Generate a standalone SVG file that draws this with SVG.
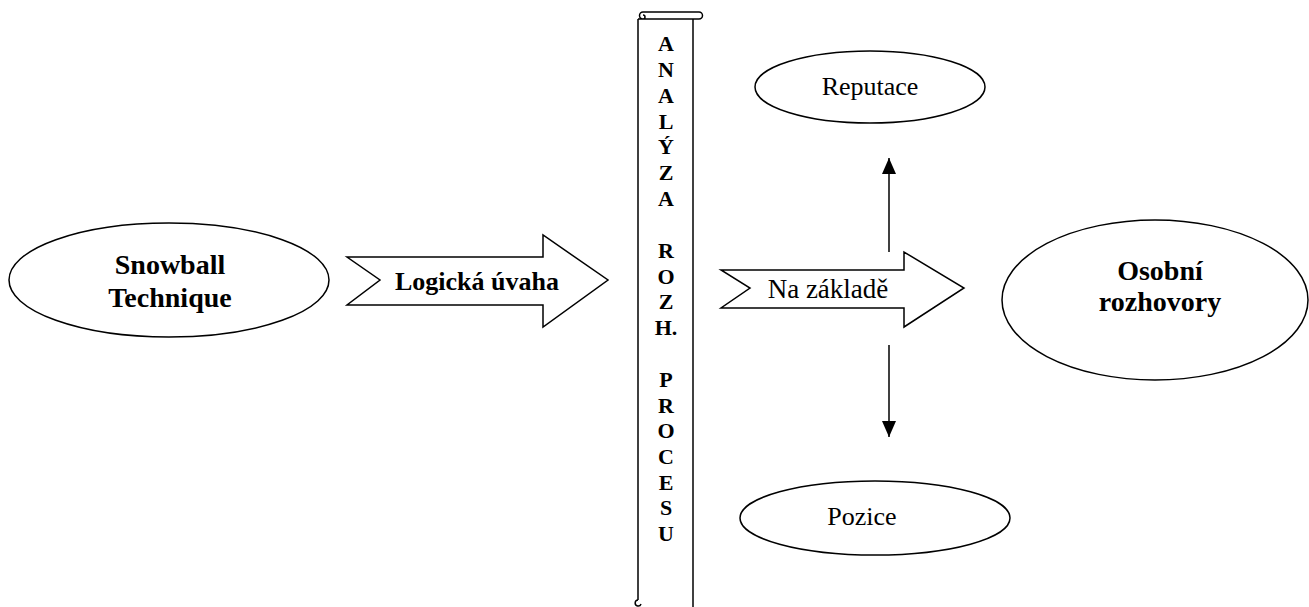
<svg xmlns="http://www.w3.org/2000/svg" width="1309" height="607" viewBox="0 0 1309 607">
<defs>
<style>
.s{fill:#fff;stroke:#000;stroke-width:1.5}
.t{font-family:"Liberation Serif",serif;fill:#000;text-anchor:middle}
.b{font-weight:bold}
.l{font-family:"Liberation Serif",serif;font-weight:bold;font-size:22px;text-anchor:middle}
</style>
<marker id="ah" markerWidth="16" markerHeight="14" refX="16" refY="7" orient="auto" markerUnits="userSpaceOnUse" viewBox="0 0 16 14">
<path d="M0,0 L16,7 L0,14 Z" fill="#000"/>
</marker>
</defs>
<rect width="1309" height="607" fill="#fff"/>
<g id="snowball">
<ellipse class="s" cx="169" cy="280" rx="160" ry="57"/>
<text class="t b" x="170" y="274" font-size="28">Snowball</text>
<text class="t b" x="170" y="307" font-size="28">Technique</text>
</g>
<g id="logicka">
<polygon class="s" points="347,257 543,257 543,235 608,280 543,327 543,305 347,305 380,280"/>
<text class="t b" x="477" y="290" font-size="26">Logická úvaha</text>
</g>
<g id="scroll">
<path class="s" d="M638,19 L638,600 M638,19 L699,19 A3.5,3.5 0 0 0 699,12 L643,12 A3.5,3.5 0 0 0 643,19 A2,2 0 0 0 643,15" fill="none"/>
<path d="M693,19 L693,607" stroke="#000" stroke-width="1.5" fill="none"/>
<path d="M638,600 A3,3 0 1 0 641,604" stroke="#000" stroke-width="1.5" fill="none"/>
<text class="l" x="666" y="51">A</text>
<text class="l" x="666" y="77">N</text>
<text class="l" x="666" y="103">A</text>
<text class="l" x="666" y="129">L</text>
<text class="l" x="666" y="154">Ý</text>
<text class="l" x="666" y="180">Z</text>
<text class="l" x="666" y="206">A</text>
<text class="l" x="666" y="258">R</text>
<text class="l" x="666" y="284">O</text>
<text class="l" x="666" y="309">Z</text>
<text class="l" x="666" y="335">H.</text>
<text class="l" x="666" y="387">P</text>
<text class="l" x="666" y="413">R</text>
<text class="l" x="666" y="438">O</text>
<text class="l" x="666" y="464">C</text>
<text class="l" x="666" y="490">E</text>
<text class="l" x="666" y="515">S</text>
<text class="l" x="666" y="541">U</text>
</g>
<g id="nazaklade">
<polygon class="s" points="721,270 904,270 904,252 964,288 904,327 904,308 721,308 750,288"/>
<text class="t" x="828" y="298" font-size="27">Na základě</text>
</g>
<g id="reputace">
<ellipse class="s" cx="870" cy="87" rx="115" ry="36"/>
<text class="t" x="870" y="95" font-size="26">Reputace</text>
</g>
<g id="pozice">
<ellipse class="s" cx="875" cy="518" rx="135" ry="37"/>
<text class="t" x="862" y="525" font-size="26">Pozice</text>
</g>
<g id="osobni">
<ellipse class="s" cx="1155" cy="300" rx="153" ry="80"/>
<text class="t b" x="1160" y="280" font-size="28">Osobní</text>
<text class="t b" x="1160" y="311" font-size="28">rozhovory</text>
</g>
<g id="connectors" stroke="#000" stroke-width="1.5" fill="none">
<line x1="889" y1="252" x2="889" y2="158" marker-end="url(#ah)"/>
<line x1="889" y1="345" x2="889" y2="437" marker-end="url(#ah)"/>
</g>
</svg>
